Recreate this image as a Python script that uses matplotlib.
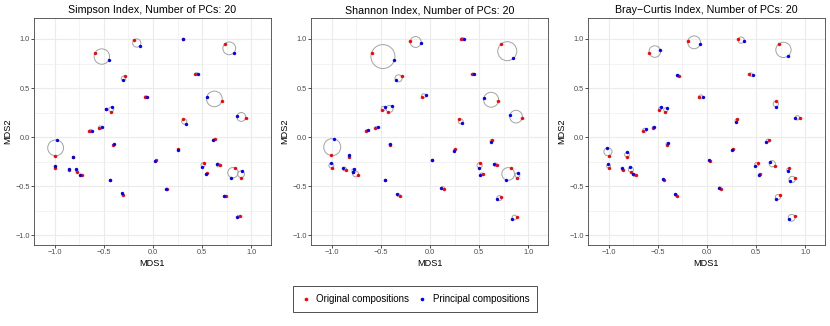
import numpy as np
import matplotlib
matplotlib.use('Agg')
import matplotlib.pyplot as plt
from matplotlib.patches import Circle
from matplotlib.lines import Line2D

plt.rcParams['font.family'] = ['Liberation Sans', 'DejaVu Sans']

titles = ['Simpson Index, Number of PCs: 20',
          'Shannon Index, Number of PCs: 20',
          'Bray\u2212Curtis Index, Number of PCs: 20']

# Simpson: original (red) and principal (blue) compositions
simp_orig_x = [-0.197, 0.303, 0.728, -0.588, -0.289, 0.432, -0.085, 0.700, -0.480, -0.432, 0.303, 0.942,
               -0.650, -0.554, -0.408, 0.259, 0.629, -1.000, -0.816, -0.993, -0.850, -0.772, -0.724, -0.439,
               -0.303, 0.027, 0.146, 0.517, 0.684, 0.830, 0.891, 0.738, 0.884, 0.545]
simp_orig_y = [0.986, 0.997, 0.949, 0.860, 0.618, 0.645, 0.413, 0.365, 0.285, 0.259, 0.181, 0.195,
               0.061, 0.092, -0.082, -0.123, -0.024, -0.190, -0.207, -0.313, -0.340, -0.354, -0.391, -0.435,
               -0.595, -0.238, -0.527, -0.262, -0.289, -0.313, -0.412, -0.599, -0.806, -0.370]
simp_prin_x = [-0.133, 0.310, 0.823, -0.452, -0.310, 0.456, -0.061, 0.548, -0.474, -0.418, 0.333, 0.854,
               -0.616, -0.517, -0.398, 0.252, 0.609, -0.980, -0.814, -0.997, -0.854, -0.779, -0.745, -0.441,
               -0.313, 0.024, 0.133, 0.503, 0.646, 0.796, 0.901, 0.721, 0.857, 0.537]
simp_prin_y = [0.932, 1.000, 0.860, 0.782, 0.577, 0.645, 0.406, 0.413, 0.290, 0.307, 0.137, 0.215,
               0.061, 0.099, -0.075, -0.130, -0.031, -0.030, -0.203, -0.293, -0.323, -0.327, -0.384, -0.433,
               -0.575, -0.248, -0.527, -0.303, -0.279, -0.412, -0.344, -0.602, -0.816, -0.372]

# Shannon
shan_orig_x = [-0.200, 0.313, 0.723, -0.594, -0.289, 0.431, -0.085, 0.696, -0.492, -0.431, 0.299, 0.938,
               -0.655, -0.557, -0.410, 0.255, 0.628, -1.010, -0.823, -0.996, -0.857, -0.780, -0.731, -0.455,
               -0.306, 0.024, 0.146, 0.513, 0.683, 0.820, 0.886, 0.727, 0.881, 0.540]
shan_orig_y = [0.983, 0.997, 0.949, 0.860, 0.618, 0.645, 0.413, 0.365, 0.280, 0.259, 0.181, 0.195,
               0.061, 0.092, -0.082, -0.122, -0.027, -0.187, -0.204, -0.313, -0.340, -0.357, -0.391, -0.435,
               -0.599, -0.238, -0.527, -0.262, -0.289, -0.316, -0.412, -0.609, -0.810, -0.374]
shan_prin_x = [-0.092, 0.347, 0.849, -0.363, -0.350, 0.448, -0.044, 0.547, -0.455, -0.390, 0.326, 0.812,
               -0.635, -0.530, -0.408, 0.248, 0.618, -0.978, -0.823, -1.010, -0.880, -0.774, -0.782, -0.457,
               -0.333, 0.022, 0.115, 0.496, 0.650, 0.770, 0.893, 0.683, 0.837, 0.513]
shan_prin_y = [0.956, 1.000, 0.802, 0.782, 0.580, 0.645, 0.427, 0.396, 0.304, 0.317, 0.140, 0.222,
               0.068, 0.099, -0.068, -0.143, -0.051, -0.017, -0.187, -0.265, -0.310, -0.323, -0.360, -0.433,
               -0.585, -0.236, -0.514, -0.313, -0.276, -0.435, -0.364, -0.636, -0.830, -0.388]

# Bray-Curtis
bray_orig_x = [-0.194, 0.316, 0.728, -0.588, -0.282, 0.432, -0.085, 0.704, -0.486, -0.429, 0.303, 0.942,
               -0.653, -0.554, -0.408, 0.262, 0.633, -1.000, -0.816, -0.993, -0.850, -0.769, -0.724, -0.439,
               -0.303, 0.031, 0.146, 0.520, 0.687, 0.830, 0.891, 0.741, 0.891, 0.541]
bray_orig_y = [0.983, 0.997, 0.949, 0.860, 0.618, 0.645, 0.413, 0.365, 0.280, 0.259, 0.181, 0.195,
               0.061, 0.092, -0.082, -0.122, -0.027, -0.190, -0.204, -0.313, -0.340, -0.357, -0.391, -0.435,
               -0.599, -0.241, -0.527, -0.262, -0.293, -0.320, -0.412, -0.595, -0.806, -0.374]
bray_prin_x = [-0.068, 0.378, 0.827, -0.473, -0.306, 0.463, -0.044, 0.697, -0.466, -0.408, 0.296, 0.898,
               -0.616, -0.541, -0.401, 0.252, 0.605, -1.014, -0.810, -1.010, -0.867, -0.779, -0.752, -0.449,
               -0.327, 0.020, 0.119, 0.493, 0.640, 0.820, 0.840, 0.701, 0.830, 0.527]
bray_prin_y = [0.949, 0.980, 0.829, 0.884, 0.631, 0.628, 0.406, 0.311, 0.304, 0.297, 0.154, 0.198,
               0.078, 0.106, -0.058, -0.129, -0.051, -0.109, -0.156, -0.279, -0.320, -0.306, -0.381, -0.429,
               -0.582, -0.238, -0.514, -0.293, -0.250, -0.347, -0.452, -0.629, -0.840, -0.388]

panels = [
    (simp_orig_x, simp_orig_y, simp_prin_x, simp_prin_y),
    (shan_orig_x, shan_orig_y, shan_prin_x, shan_prin_y),
    (bray_orig_x, bray_orig_y, bray_prin_x, bray_prin_y),
]

ticks = [-1.0, -0.5, 0.0, 0.5, 1.0]
tick_labels = ['\u22121.0', '\u22120.5', '0.0', '0.5', '1.0']
minor = [-0.75, -0.25, 0.25, 0.75]

W, H = 830, 326
fig = plt.figure(figsize=(W / 100, H / 100), dpi=100)
lefts = [34, 311, 588]
for k, (ox, oy, px, py) in enumerate(panels):
    ax = fig.add_axes([lefts[k] / W, (H - 245) / H, 237 / W, 227 / H])
    ax.set_xlim(-1.21, 1.2)
    ax.set_ylim(-1.10, 1.214)
    ox, oy, px, py = map(np.array, (ox, oy, px, py))
    # circle through each pair, centred at midpoint
    mx, my = (ox + px) / 2, (oy + py) / 2
    rad = np.hypot(ox - px, oy - py) / 2
    for cx, cy, r in zip(mx, my, rad):
        ax.add_patch(Circle((cx, cy), r, fill=False, edgecolor='#a3a3a3', lw=0.7, zorder=2))
    ax.scatter(ox, oy, s=6, color='#ff0000', lw=0, zorder=3)
    ax.scatter(px, py, s=6, color='#0000ff', lw=0, zorder=3)

    ax.set_xticks(ticks)
    ax.set_xticklabels(tick_labels)
    ax.set_yticks(ticks)
    ax.set_yticklabels(tick_labels)
    ax.set_xticks(minor, minor=True)
    ax.set_yticks(minor, minor=True)
    ax.grid(True, which='major', color='#ebebeb', lw=0.8)
    ax.grid(True, which='minor', color='#ebebeb', lw=0.4)
    ax.set_axisbelow(True)
    ax.tick_params(which='major', length=2, width=0.6, color='#333333', labelsize=5.3,
                   labelcolor='#4d4d4d', pad=1)
    ax.tick_params(which='minor', length=0)
    for sp in ax.spines.values():
        sp.set_color('#444444')
        sp.set_linewidth(0.6)
    ax.set_title(titles[k], fontsize=7.7, pad=3.5)
    ax.set_xlabel('MDS1', fontsize=6.6, labelpad=2)
    ax.set_ylabel('MDS2', fontsize=6.6, labelpad=2)

handles = [Line2D([], [], ls='none', marker='o', ms=2.6, mec='none', mfc='#ff0000'),
           Line2D([], [], ls='none', marker='o', ms=2.6, mec='none', mfc='#0000ff')]
leg = fig.legend(handles, ['Original compositions', 'Principal compositions'], loc='center',
                 bbox_to_anchor=(415 / W, 1 - 299 / H), ncol=2, fontsize=7, frameon=True,
                 fancybox=False, handlelength=1.0, handletextpad=0.6, columnspacing=0.8,
                 borderpad=0.8)
leg.get_frame().set_edgecolor('#000000')
leg.get_frame().set_linewidth(0.6)

fig.savefig('out.png', dpi=100)
